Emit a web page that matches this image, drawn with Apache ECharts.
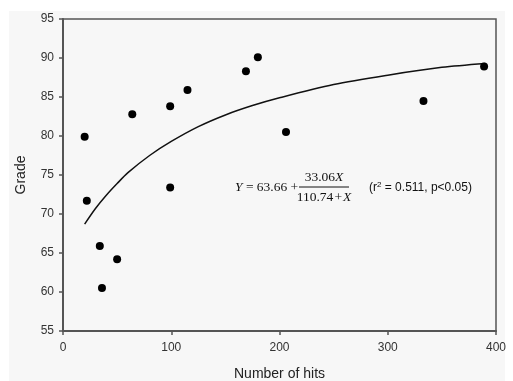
<!DOCTYPE html>
<html>
<head>
<meta charset="utf-8">
<script src="https://cdn.jsdelivr.net/npm/echarts@6/dist/echarts.min.js"></script>
<style>
  html, body { margin: 0; padding: 0; background: #fff; }
  #chart { width: 513px; height: 381px; }
</style>
</head>
<body>
<div id="chart"></div>
<script>
// observed points: number of hits vs grade
var hits = [20, 22, 34, 36, 50, 64, 99, 99, 115, 169, 180, 206, 333, 389];
var grades = [79.9, 71.7, 65.9, 60.5, 64.2, 82.8, 83.8, 73.4, 85.9, 88.3, 90.1, 80.5, 84.5, 88.9];

// fitted curve
var fitX = [20, 30, 40, 50, 60, 80, 100, 125, 150, 175, 200, 250, 300, 350, 390];
var fitY = [68.7, 70.7, 72.4, 73.9, 75.3, 77.5, 79.3, 81.2, 82.7, 83.9, 84.9, 86.6, 87.8, 88.8, 89.3];

var xTicks = [0, 100, 200, 300, 400];
var yTicks = [55, 60, 65, 70, 75, 80, 85, 90, 95];

var chartDom = document.getElementById('chart');
var myChart = echarts.init(chartDom);

var scatterData = hits.map(function (h, i) { return [h, grades[i]]; });
var fitData = fitX.map(function (x, i) { return [x, fitY[i]]; });

var axisColor = '#555';
var labelFont = { color: '#333', fontFamily: 'Liberation Sans', fontSize: 12 };
var serifRich = { i: { fontStyle: 'italic', fontFamily: 'Liberation Serif', fontSize: 13.5 } };
var serifFont = '13.5px "Liberation Serif"';

var option = {
  backgroundColor: '#fff',
  animation: false,
  grid: {
    left: 63, right: 17, top: 19, bottom: 50,
    outerBoundsMode: 'none',
    containLabel: false,
    show: true,
    borderColor: '#555',
    borderWidth: 1.5,
    backgroundColor: 'transparent'
  },
  graphic: [
    {
      type: 'rect', z: -10, silent: true,
      shape: { x: 9, y: 11, width: 496, height: 370 },
      style: { fill: '#f7f7f7' }
    },
    {
      type: 'text', x: 235, y: 187,
      style: {
        text: '{i|Y} = 63.66 +',
        font: serifFont, fill: '#111',
        verticalAlign: 'middle',
        rich: serifRich
      }
    },
    {
      type: 'text', x: 324, y: 177,
      style: {
        text: '33.06{i|X}',
        font: serifFont, fill: '#111',
        align: 'center', verticalAlign: 'middle',
        rich: serifRich
      }
    },
    {
      type: 'line',
      shape: { x1: 299, y1: 187, x2: 349, y2: 187 },
      style: { stroke: '#111', lineWidth: 1 }
    },
    {
      type: 'text', x: 324, y: 197,
      style: {
        text: '110.74\u200a+\u200a{i|X}',
        font: serifFont, fill: '#111',
        align: 'center', verticalAlign: 'middle',
        rich: serifRich
      }
    },
    {
      type: 'text', x: 369, y: 188,
      style: {
        text: '(r{sup|2} = 0.511, p<0.05)',
        font: '12px "Liberation Sans"', fill: '#111',
        verticalAlign: 'middle',
        rich: { sup: { fontSize: 8, fontFamily: 'Liberation Sans', verticalAlign: 'top', padding: [0, 0, 6, 0] } }
      }
    }
  ],
  xAxis: {
    type: 'value',
    min: 0, max: 400, interval: 100,
    name: 'Number of hits',
    nameLocation: 'middle',
    nameGap: 36,
    nameTextStyle: { color: '#222', fontFamily: 'Liberation Sans', fontSize: 14 },
    axisLine: { show: true, lineStyle: { color: axisColor, width: 2 } },
    axisTick: { show: true, length: 4, lineStyle: { color: axisColor, width: 1.5 } },
    axisLabel: Object.assign({ margin: 11 }, labelFont, {
      formatter: function (v) { return xTicks.indexOf(v) >= 0 ? String(v) : ''; }
    }),
    splitLine: { show: false }
  },
  yAxis: {
    type: 'value',
    min: 55, max: 95, interval: 5,
    name: 'Grade',
    nameLocation: 'middle',
    nameGap: 35,
    nameRotate: 90,
    nameTextStyle: { color: '#222', fontFamily: 'Liberation Sans', fontSize: 14 },
    axisLine: { show: true, lineStyle: { color: axisColor, width: 2 } },
    axisTick: { show: true, length: 4, lineStyle: { color: axisColor, width: 1.5 } },
    axisLabel: Object.assign({ margin: 9 }, labelFont, {
      formatter: function (v) { return yTicks.indexOf(v) >= 0 ? String(v) : ''; }
    }),
    splitLine: { show: false }
  },
  series: [
    {
      name: 'Fit',
      type: 'line',
      data: fitData,
      smooth: 0.3,
      showSymbol: false,
      lineStyle: { color: '#111', width: 1.5 },
      z: 2
    },
    {
      name: 'Grade',
      type: 'scatter',
      data: scatterData,
      symbolSize: 8,
      itemStyle: { color: '#000', opacity: 1 },
      z: 3
    }
  ]
};

myChart.setOption(option);

window.addEventListener('resize', function () {
  myChart.resize();
});
</script>
</body>
</html>
